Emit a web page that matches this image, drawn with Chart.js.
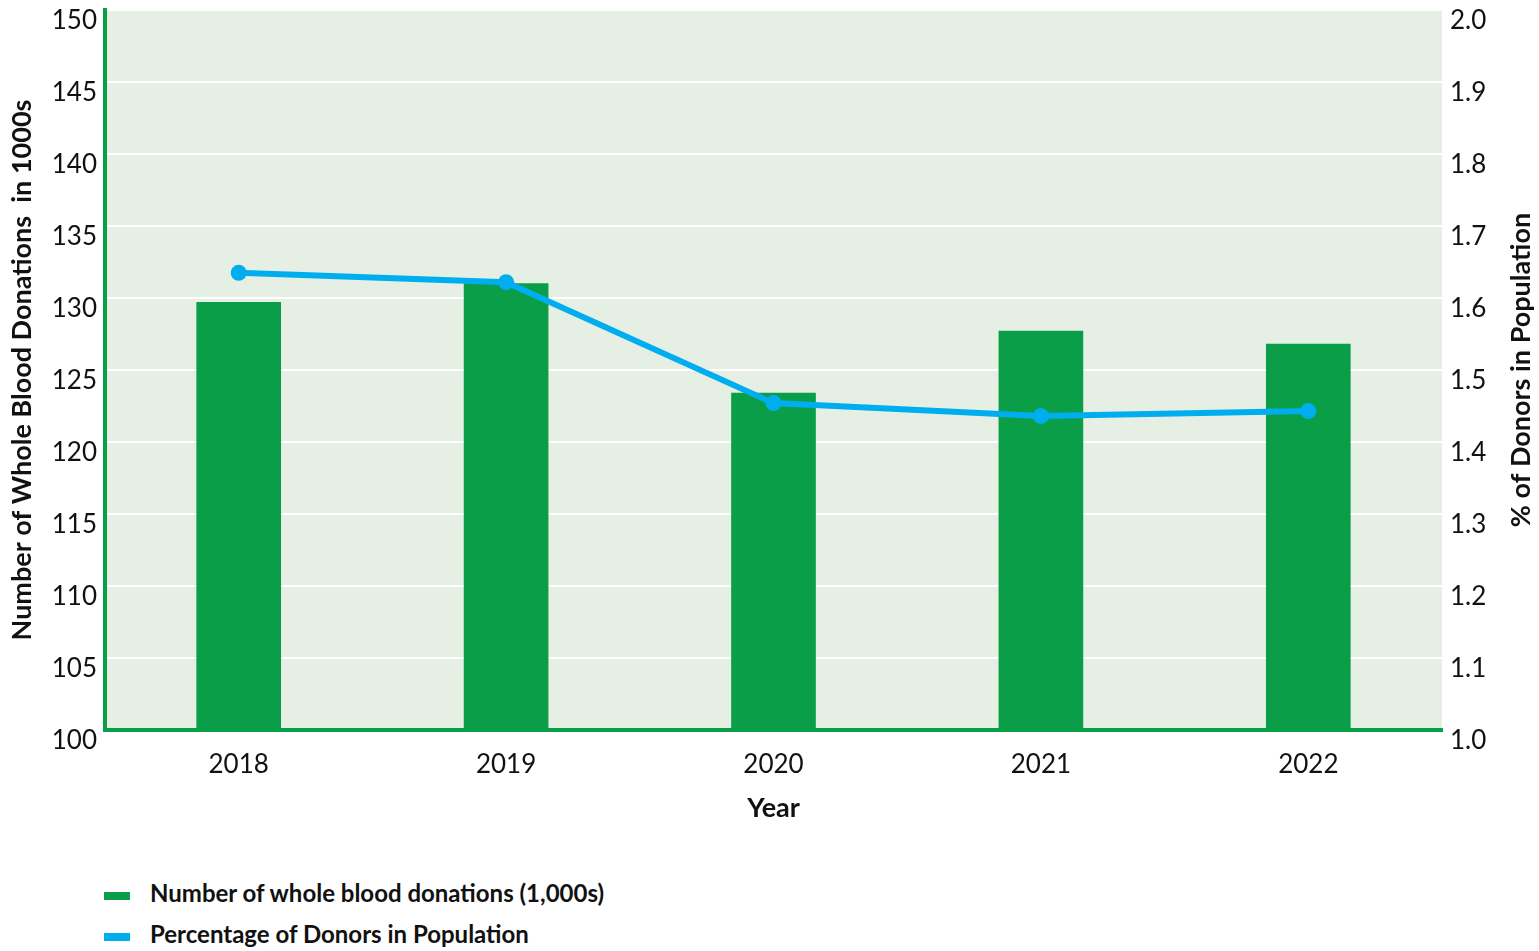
<!DOCTYPE html>
<html>
<head>
<meta charset="utf-8">
<script src="https://cdn.jsdelivr.net/npm/chart.js@4/dist/chart.umd.min.js"></script>
<style>
  html, body { margin: 0; padding: 0; background: #fff; }
  #wrap { position: relative; width: 1539px; height: 951px; font-family: Lato, sans-serif; }
  #box { position: absolute; left: 0; top: 0; width: 1539px; height: 840px; }
  .legend { position: absolute; left: 104px; font-weight: bold; font-size: 24px; color: #111; }
  .legend span.sw { display: inline-block; width: 26px; height: 8px; vertical-align: middle; margin-right: 20px; }
</style>
</head>
<body>
<div id="wrap">
  <div id="box"><canvas id="out"></canvas></div>
  <div class="legend" style="top:878px"><span class="sw" style="background:#0b9e48"></span>Number of whole blood donations (1,000s)</div>
  <div class="legend" style="top:919px"><span class="sw" style="background:#00aeef"></span>Percentage of Donors in Population</div>
</div>
<script>
const years = ["2018", "2019", "2020", "2021", "2022"];
const donations = [129.7, 131.0, 123.4, 127.7, 126.8];
const donorPercent = [1.635, 1.622, 1.454, 1.436, 1.443];

const green = "#0b9e48";
const blue = "#00aeef";
const tickFont = { family: "Lato", size: 26 };
const titleFont = { family: "Lato", size: 27, weight: "bold" };

// light green fill behind the plot
const plotBackground = {
	id: "plotBackground",
	beforeDraw(chart) {
		const { ctx, chartArea } = chart;
		ctx.save();
		ctx.fillStyle = "#e5efe4";
		ctx.fillRect(chartArea.left, chartArea.top, chartArea.right - chartArea.left, chartArea.bottom - chartArea.top);
		ctx.restore();
	}
};

// right axis title reads bottom to top, like the left one
const rightTitle = {
	id: "rightTitle",
	afterDraw(chart) {
		const { ctx, chartArea } = chart;
		ctx.save();
		ctx.translate(1521, (chartArea.top + chartArea.bottom) / 2);
		ctx.rotate(-Math.PI / 2);
		ctx.font = "bold 27px Lato";
		ctx.fillStyle = "#111";
		ctx.textAlign = "center";
		ctx.textBaseline = "middle";
		ctx.fillText("% of Donors in Population", 0, 0);
		ctx.restore();
	}
};

function noPad(scale) {
	scale.paddingTop = 0;
	scale.paddingBottom = 0;
	scale.paddingLeft = 0;
	scale.paddingRight = 0;
}

function build() {
	new Chart(document.getElementById("out"), {
		type: "bar",
		data: {
			labels: years,
			datasets: [
				{
					type: "line",
					label: "Percentage of Donors in Population",
					data: donorPercent,
					yAxisID: "y1",
					borderColor: blue,
					backgroundColor: blue,
					borderWidth: 6,
					pointRadius: 8,
					pointBackgroundColor: blue,
					pointBorderWidth: 0,
					order: 0
				},
				{
					label: "Number of whole blood donations (1,000s)",
					data: donations,
					yAxisID: "y",
					backgroundColor: green,
					barThickness: 84,
					order: 1
				}
			]
		},
		options: {
			responsive: true,
			maintainAspectRatio: false,
			animation: false,
			layout: { padding: { top: 10 } },
			plugins: { legend: { display: false }, tooltip: { enabled: false } },
			scales: {
				x: {
					grid: { display: false },
					border: { color: green, width: 4 },
					ticks: { font: tickFont, color: "#111", padding: 11 },
					title: { display: true, text: "Year", font: titleFont, color: "#111", padding: { top: 0, bottom: 16 } },
					afterFit(scale) { scale.height = 110; noPad(scale); }
				},
				y: {
					position: "left",
					min: 100,
					max: 150,
					ticks: { stepSize: 5, font: tickFont, color: "#111", padding: 8, labelOffset: 11 },
					grid: { color: "#ffffff", lineWidth: 2, drawTicks: false },
					border: { color: green, width: 4 },
					title: { display: true, text: "Number of Whole Blood Donations  in 1000s", font: titleFont, color: "#111", padding: { top: 6, bottom: 0 } },
					afterFit(scale) { scale.width = 105; noPad(scale); }
				},
				y1: {
					position: "right",
					min: 1,
					max: 2,
					ticks: { stepSize: 0.1, font: tickFont, color: "#111", padding: 8, labelOffset: 11, callback: v => v.toFixed(1) },
					grid: { display: false, drawTicks: false },
					border: { display: false },
					afterFit(scale) { scale.width = 97; noPad(scale); }
				}
			}
		},
		plugins: [plotBackground, rightTitle]
	});
}

Promise.all([
	document.fonts.load("26px Lato"),
	document.fonts.load("bold 27px Lato")
]).then(build, build);
</script>
</body>
</html>
